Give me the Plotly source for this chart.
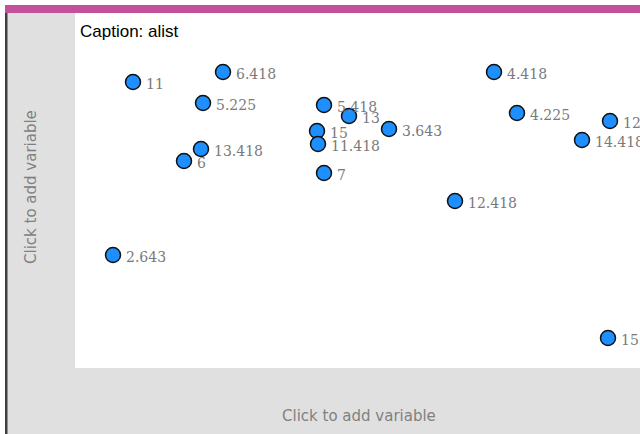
import plotly.graph_objects as go

# Data: list "alist" shown as a caption plot (positions in plot units)
labels = ["11", "6.418", "5.225", "13.418", "6", "5.418", "13", "15", "11.418",
          "3.643", "7", "4.418", "4.225", "12.225", "14.418", "12.418", "2.643", "15.643"]
xpos = [58, 148, 128, 126, 109, 249, 274, 242, 243, 314, 249, 419, 442, 535, 507, 380, 38, 533]
ypos = [286, 296, 265, 219, 207, 263, 252, 237, 224, 239, 195, 296, 255, 247, 228, 167, 113, 30]

W, H = 640, 434
L, R, T, B = 75, 0, 13, 66
PW, PH = W - L - R, H - T - B

def px(x):
    return (x - L) / PW

def py(y):
    return (H - B - y) / PH

fig = go.Figure()
fig.add_trace(go.Scatter(
    x=xpos, y=ypos, mode="markers",
    marker=dict(size=15, color="#1e8fff", line=dict(color="#111111", width=1.5)),
    hoverinfo="skip", showlegend=False,
))

annotations = []
for lab, xv, yv in zip(labels, xpos, ypos):
    annotations.append(dict(
        text=lab, x=xv, y=yv, xref="x", yref="y", showarrow=False,
        xanchor="left", yanchor="middle", xshift=11, yshift=-2,
        font=dict(family="DejaVu Serif", size=14, color="#7a7a7a"),
    ))

shapes = [
    dict(type="rect", xref="paper", yref="paper", x0=px(0), x1=px(5), y0=py(H), y1=py(0),
         fillcolor="white", line=dict(width=0), layer="below"),
    dict(type="rect", xref="paper", yref="paper", x0=px(0), x1=px(W), y0=py(5), y1=py(0),
         fillcolor="white", line=dict(width=0), layer="below"),
    dict(type="rect", xref="paper", yref="paper", x0=px(5), x1=px(W), y0=py(13), y1=py(5),
         fillcolor="#c4509c", line=dict(width=0), layer="below"),
    dict(type="rect", xref="paper", yref="paper", x0=px(5), x1=px(7.5), y0=py(H), y1=py(13),
         fillcolor="#404040", line=dict(width=0), layer="below"),
]

annotations += [
    dict(text="Caption: alist", xref="paper", yref="paper", x=px(78), y=py(31),
         xanchor="left", yanchor="middle", showarrow=False,
         font=dict(family="Liberation Sans", size=17, color="#000000")),
    dict(text="Click to add variable", xref="paper", yref="paper", x=px(31), y=py(187),
         xanchor="center", yanchor="middle", showarrow=False, textangle=-90,
         font=dict(family="DejaVu Sans", size=15, color="#808080")),
    dict(text="Click to add variable", xref="paper", yref="paper", x=px(359), y=py(416),
         xanchor="center", yanchor="middle", showarrow=False,
         font=dict(family="DejaVu Sans", size=15, color="#808080")),
]

fig.update_layout(
    width=W, height=H,
    margin=dict(l=L, r=R, t=T, b=B, pad=0),
    paper_bgcolor="#e0e0e0", plot_bgcolor="white",
    xaxis=dict(range=[0, PW], visible=False, showgrid=False, zeroline=False, fixedrange=True),
    yaxis=dict(range=[0, PH], visible=False, showgrid=False, zeroline=False, fixedrange=True),
    shapes=shapes, annotations=annotations,
)

fig.write_html("out.html", config={"displayModeBar": False},
               post_script="document.body.style.margin='0';document.body.style.overflow='hidden';")
